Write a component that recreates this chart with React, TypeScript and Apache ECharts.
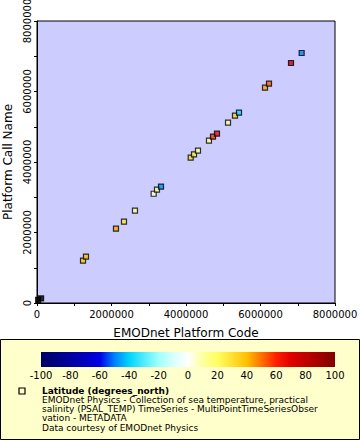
import React, { useEffect, useRef } from "react";
import * as echarts from "echarts";

// Platform code (x), platform call name (y), latitude (colour)
const platformCode = [
  1235000, 1315000, 2120000, 2335000, 2630000, 3132000, 3221000, 3329000,
  4126000, 4215000, 4322000, 4617000, 4725000, 4832000, 5128000, 5315000,
  5423000, 6121000, 6228000, 6819000, 7105000,
];
const platformCallName = [
  1200000, 1313000, 2108000, 2306000, 2618000, 3100000, 3214000, 3300000,
  4122000, 4218000, 4320000, 4604000, 4718000, 4803000, 5115000, 5313000,
  5398000, 6108000, 6221000, 6809000, 7092000,
];
const latitude = [
  37, 39, 43, 27, 10, 4, 12, -48, 33, 25, 11, 12, 57, 66, 11, 33, -38, 43,
  52, 78, -50,
];
// points drawn in black (no colour value)
const blackCode = [30000, 110000];
const blackCallName = [90000, 130000];

const colorbarTicks = [-100, -80, -60, -40, -20, 0, 20, 40, 60, 80, 100];
const paletteColors = [
  "#000066", "#000080", "#0000a0", "#0000c0", "#0000e6", "#0080ff",
  "#00d4ff", "#50ecff", "#a0ffff", "#d8ffff", "#ffffff", "#ffffa0",
  "#ffff60", "#ffe030", "#ffc000", "#ff7000", "#ff2000", "#e00000",
  "#c00000", "#a00000", "#800000",
];
const legendTitle = "Latitude (degrees_north)";
const legendLines = [
  "EMODnet Physics - Collection of sea temperature, practical",
  "salinity (PSAL_TEMP) TimeSeries - MultiPointTimeSeriesObser",
  "vation - METADATA",
  "Data courtesy of EMODnet Physics",
];

const FONT = "DejaVu Sans";

export default function App() {
  const ref = useRef<HTMLDivElement>(null);
  useEffect(() => {
    document.body.style.margin = "0";
    const chart = echarts.init(ref.current!, null, { renderer: "svg" });
    const points = platformCode.map((x, i) => [x, platformCallName[i], latitude[i]]);
    const blacks = blackCode.map((x, i) => [x, blackCallName[i]]);
    const gradient = new echarts.graphic.LinearGradient(
      0, 0, 1, 0,
      paletteColors.map((c, i) => ({ offset: i / (paletteColors.length - 1), color: c }))
    );
    const axisLabelStyle = { fontFamily: FONT, fontSize: 10, color: "#000" };
    const tickFormatter = (v: number) => ((v / 1000000) % 2 === 0 ? String(v) : "");
    chart.setOption({
      animation: false,
      backgroundColor: "#fff",
      graphic: [
        {
          type: "rect",
          z: -10,
          shape: { x: 0.5, y: 339.5, width: 359, height: 100 },
          style: { fill: "#ffffcc", stroke: "#000", lineWidth: 1 },
        },
        {
          type: "rect",
          shape: { x: 19, y: 388, width: 6, height: 6 },
          style: { fill: "#ffffcc", stroke: "#000", lineWidth: 1.2 },
        },
        {
          type: "text",
          x: 42,
          y: 386.2,
          style: {
            text: legendTitle,
            fontFamily: FONT,
            fontSize: 9,
            lineHeight: 9,
            fontWeight: "bold",
            fill: "#000",
          },
        },
        {
          type: "text",
          x: 42,
          y: 395.4,
          style: {
            text: legendLines.join("\n"),
            fontFamily: FONT,
            fontSize: 9,
            lineHeight: 9.2,
            fill: "#000",
          },
        },
      ],
      grid: [
        {
          left: 37,
          top: 21,
          width: 298,
          height: 282,
          show: true,
          outerBoundsMode: "none",
          containLabel: false,
          backgroundColor: "#ccccff",
          borderColor: "#000",
          borderWidth: 1,
        },
        {
          left: 41,
          top: 352,
          width: 294,
          height: 15,
          show: true,
          outerBoundsMode: "none",
          containLabel: false,
          backgroundColor: gradient,
          borderWidth: 0,
        },
      ],
      xAxis: [
        {
          gridIndex: 0,
          type: "value",
          min: 0,
          max: 8000000,
          interval: 1000000,
          splitLine: { show: false },
          axisLine: { lineStyle: { color: "#000" } },
          axisTick: { length: 3, lineStyle: { color: "#000" } },
          axisLabel: { ...axisLabelStyle, margin: 6, formatter: tickFormatter },
          name: "EMODnet Platform Code",
          nameLocation: "middle",
          nameGap: 24,
          nameTextStyle: { fontFamily: FONT, fontSize: 12, color: "#000" },
        },
        {
          gridIndex: 1,
          type: "value",
          min: colorbarTicks[0],
          max: colorbarTicks[colorbarTicks.length - 1],
          interval: colorbarTicks[1] - colorbarTicks[0],
          splitLine: { show: false },
          axisLine: { show: false },
          axisTick: { show: false },
          axisLabel: { ...axisLabelStyle, fontSize: 10, margin: 3 },
        },
      ],
      yAxis: [
        {
          gridIndex: 0,
          type: "value",
          min: 0,
          max: 8000000,
          interval: 1000000,
          splitLine: { show: false },
          axisLine: { lineStyle: { color: "#000" } },
          axisTick: { length: 3, lineStyle: { color: "#000" } },
          axisLabel: { ...axisLabelStyle, rotate: 90, margin: 5, formatter: tickFormatter },
          name: "Platform Call Name",
          nameLocation: "middle",
          nameGap: 19,
          nameTextStyle: { fontFamily: FONT, fontSize: 12, color: "#000" },
        },
        {
          gridIndex: 1,
          type: "value",
          min: 0,
          max: 1,
          show: false,
        },
      ],
      visualMap: {
        show: false,
        type: "continuous",
        seriesIndex: 1,
        dimension: 2,
        min: -100,
        max: 100,
        inRange: { color: paletteColors },
      },
      series: [
        {
          type: "scatter",
          xAxisIndex: 0,
          yAxisIndex: 0,
          symbol: "rect",
          symbolSize: 5,
          itemStyle: { color: "#000", borderColor: "#000", borderWidth: 1.2 },
          data: blacks,
        },
        {
          type: "scatter",
          xAxisIndex: 0,
          yAxisIndex: 0,
          symbol: "rect",
          symbolSize: 5,
          itemStyle: { borderColor: "#000", borderWidth: 1.2 },
          data: points,
        },
      ],
    });
    return () => chart.dispose();
  }, []);
  return <div ref={ref} style={{ width: 360, height: 440 }} />;
}
